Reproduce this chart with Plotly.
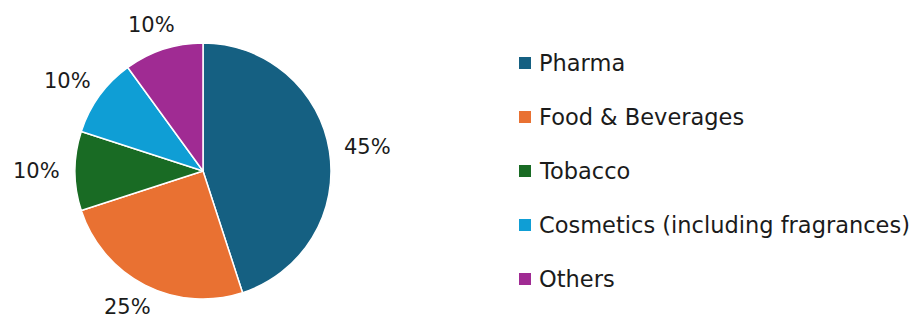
import math
import plotly.graph_objects as go

# Market share by end-use sector
sectors = ["Pharma", "Food & Beverages", "Tobacco",
           "Cosmetics (including fragrances)", "Others"]
shares = [45, 25, 10, 10, 10]
colors = ["#156082", "#E97132", "#196B24", "#0F9ED5", "#A02B93"]

W, H = 921, 320
FONT = "DejaVu Sans"
TEXT_COLOR = "#1b1b1b"

# Pie placement in pixels (converted to paper coordinates below)
cx, cy, r = 203, 171, 128
dom_x = [(cx - r) / W, (cx + r) / W]
dom_y = [(H - cy - r) / H, (H - cy + r) / H]

fig = go.Figure(go.Pie(
    labels=sectors,
    values=shares,
    sort=False,
    direction="clockwise",
    rotation=0,
    marker=dict(colors=colors, line=dict(color="white", width=1.5)),
    textinfo="none",
    hoverinfo="label+percent",
    showlegend=False,
    domain=dict(x=dom_x, y=dom_y),
))

# Percentage labels outside each slice: anchor on a ring beyond the rim,
# then push the text box outward by half its size along the slice direction
total = sum(shares)
ring = r + 15
half_w, half_h = 24, 10
cum = 0
for v in shares:
    mid = (cum + v / 2) / total * 2 * math.pi  # clockwise from 12 o'clock
    cum += v
    ux, uy = math.sin(mid), -math.cos(mid)
    px = cx + ring * ux + half_w * ux
    py = cy + ring * uy + half_h * uy
    fig.add_annotation(
        x=px / W, y=1 - py / H, xref="paper", yref="paper",
        text=f"{round(v / total * 100)}%", showarrow=False,
        xanchor="center", yanchor="middle",
        font=dict(family=FONT, size=21, color=TEXT_COLOR),
    )

# Legend: colour swatch plus sector name, evenly spaced rows
leg_x, leg_y0, leg_step, sw = 519, 63, 54, 12
for i, (name, col) in enumerate(zip(sectors, colors)):
    y = leg_y0 + i * leg_step
    fig.add_shape(
        type="rect", xref="paper", yref="paper",
        x0=leg_x / W, x1=(leg_x + sw) / W,
        y0=1 - (y + sw / 2) / H, y1=1 - (y - sw / 2) / H,
        fillcolor=col, line=dict(width=0),
    )
    fig.add_annotation(
        x=(leg_x + sw + 6) / W, y=1 - y / H, xref="paper", yref="paper",
        text=name, showarrow=False, xanchor="left", yanchor="middle",
        font=dict(family=FONT, size=22.5, color=TEXT_COLOR),
    )

fig.update_layout(
    width=W, height=H,
    margin=dict(l=0, r=0, t=0, b=0),
    paper_bgcolor="white",
    plot_bgcolor="white",
)

fig.write_html("out.html")
